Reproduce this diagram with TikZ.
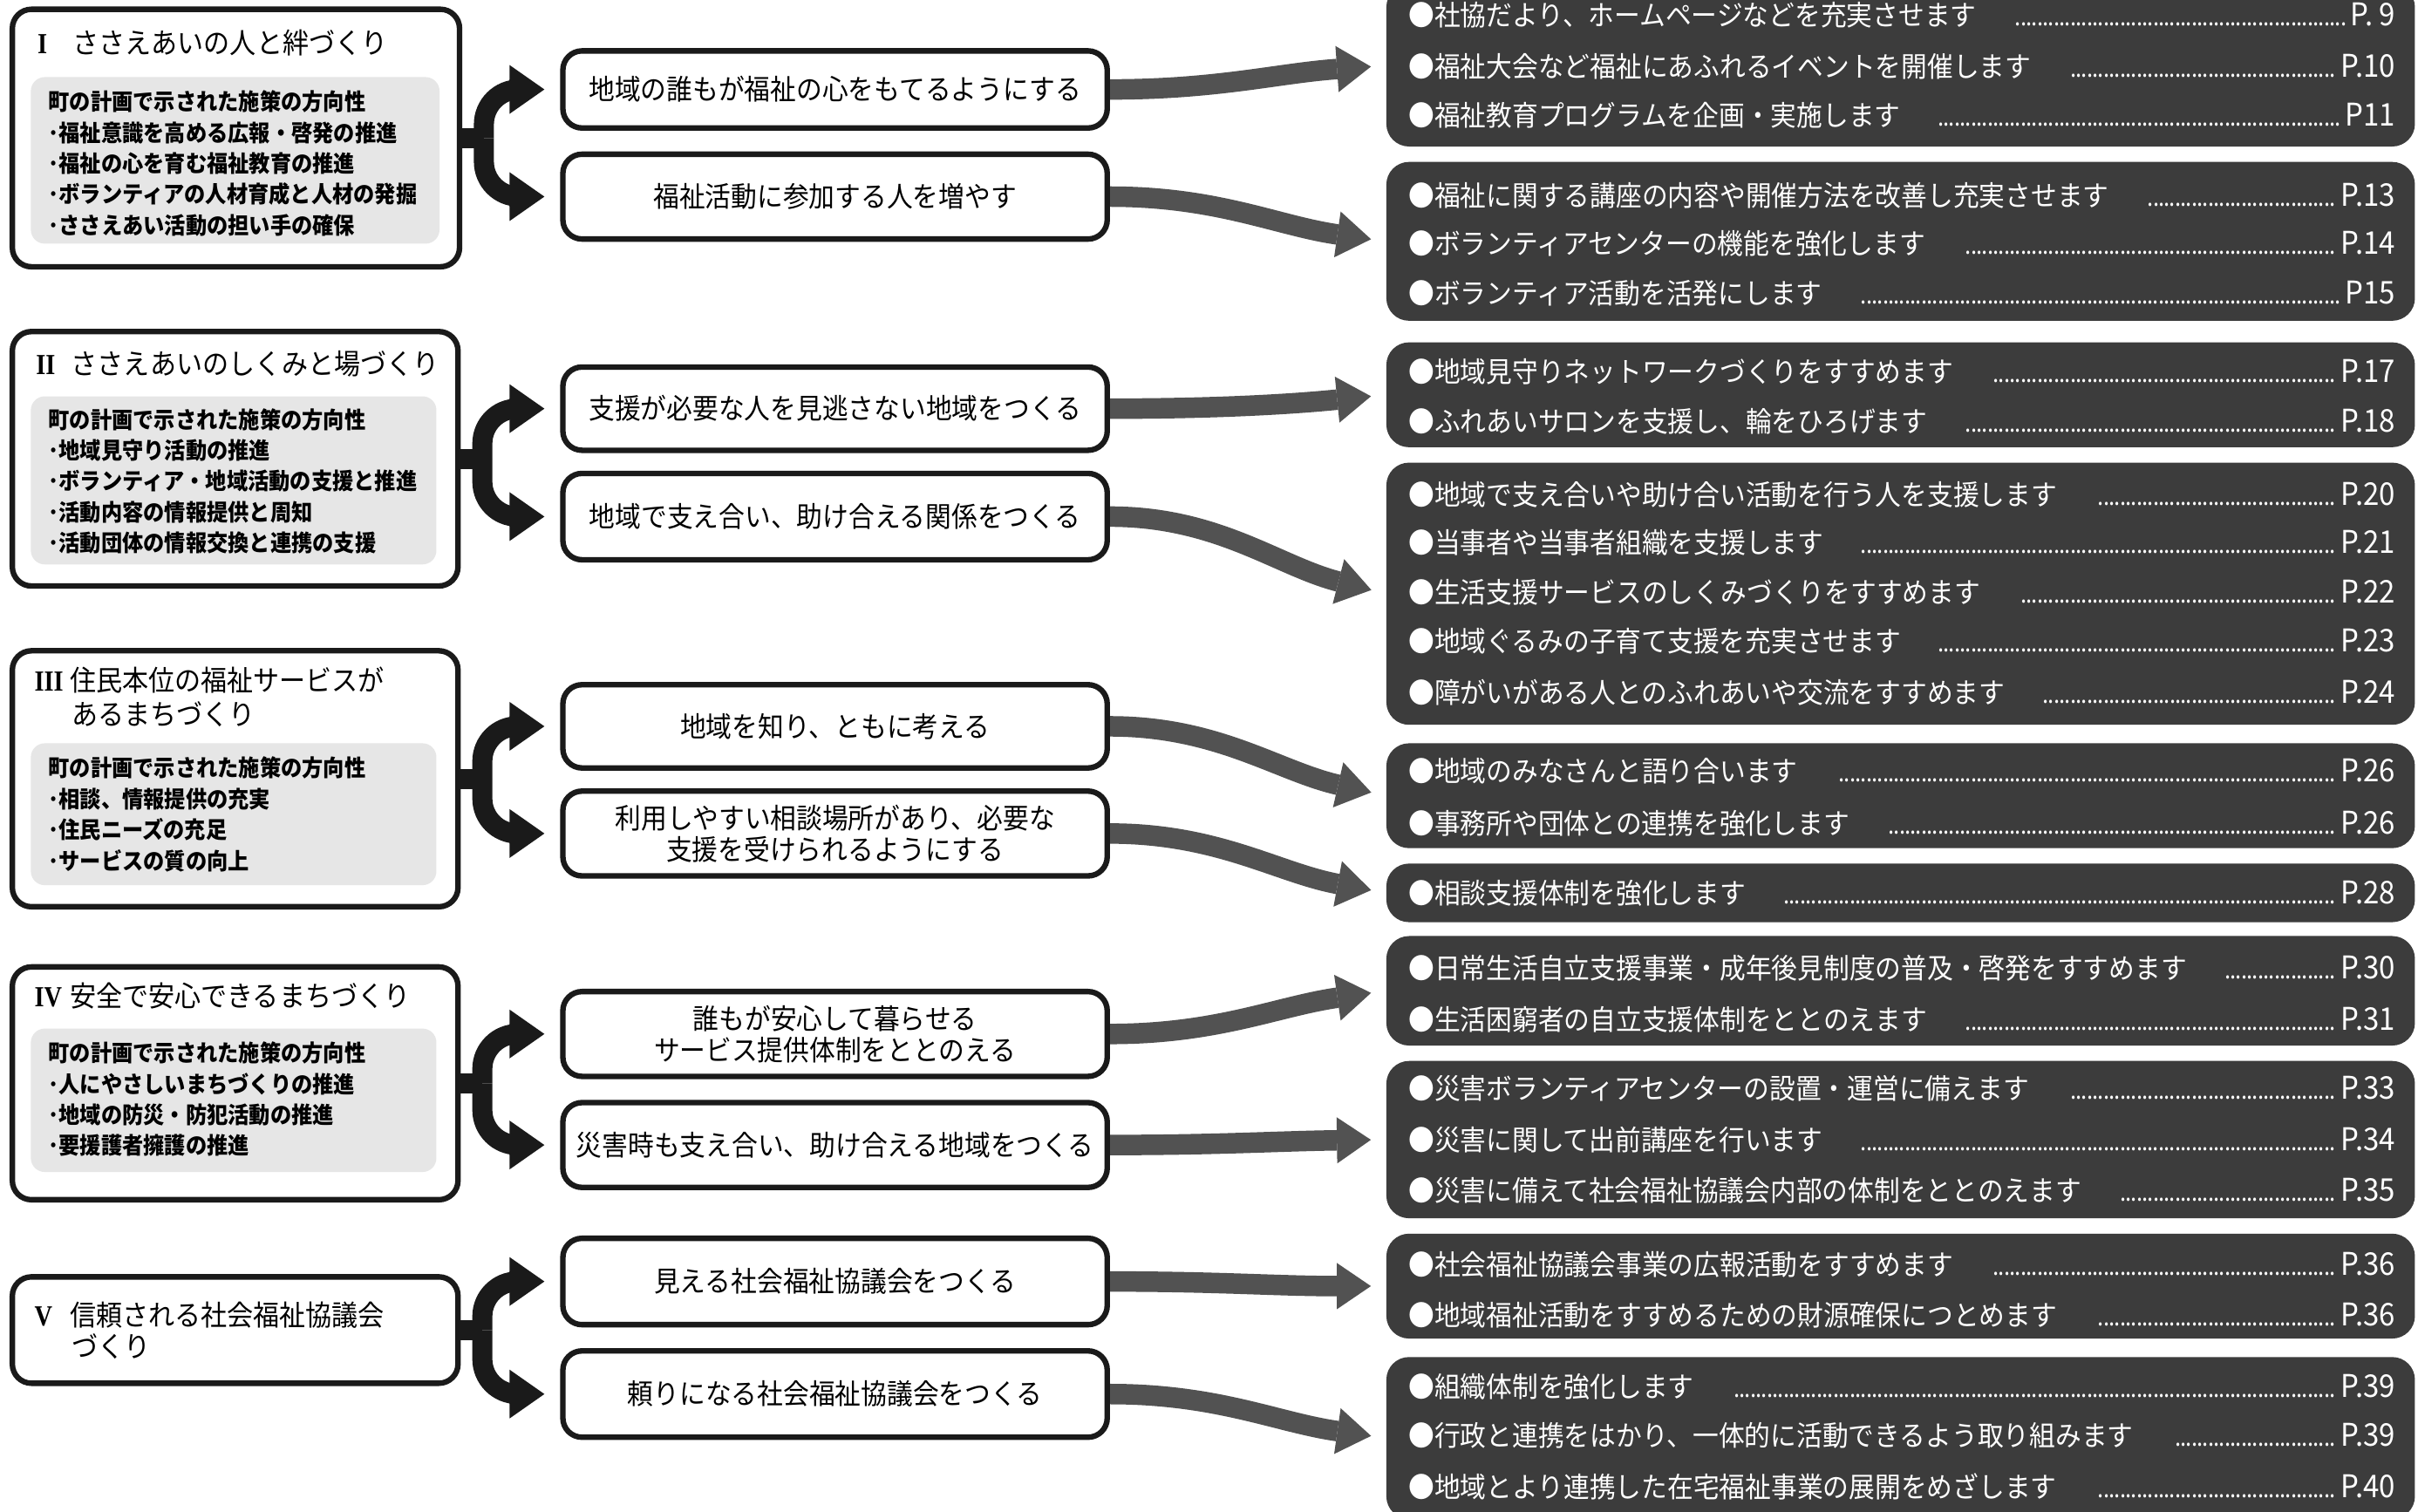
\documentclass[tikz,border=0pt]{standalone}
\usepackage{fontspec}
\usetikzlibrary{arrows.meta,fit,backgrounds}
\newfontfamily\jp[FakeStretch=0.92]{Noto Sans CJK JP}
\newfontfamily\rnfont[FakeStretch=0.85]{Liberation Serif}
\definecolor{darkbox}{HTML}{3C3C3C}
\definecolor{arrowgray}{HTML}{525252}
\definecolor{innergray}{HTML}{E6E6E6}
\definecolor{inkblack}{HTML}{1A1A1A}
\newcommand\numl[1]{\hbox to 11.5pt{\rnfont\bfseries\fontsize{9.5}{10}\selectfont #1\hss}}
\newcommand\dotlead{\leaders\hbox to 1.8pt{\hss\fontsize{8}{8}\selectfont.\hss}\hfill}
\newcommand\pgitem[2]{\hbox to 322pt{●#1\hskip 1.3em\dotlead\hskip 0.4pt {\fontsize{10.2}{12}\selectfont #2}}}
\begin{document}
\begin{tikzpicture}[x=0.17685mm,y=-0.17685mm,
  lbox/.style={draw=inkblack, line width=1.8pt, rounded corners=2.2mm, fill=white, inner sep=0pt},
  gbox/.style={fill=innergray, draw=none, rounded corners=1.6mm, inner sep=0pt},
  mbox/.style={draw=inkblack, line width=1.8pt, rounded corners=2.2mm, fill=white, inner sep=0pt},
  dbox/.style={fill=darkbox, draw=none, rounded corners=2.6mm, inner sep=0pt},
  ttl/.style={anchor=west, inner sep=0pt, font=\jp\fontsize{9.3}{12}\selectfont},
  gtxt/.style={anchor=west, inner sep=0pt, font=\jp\bfseries\fontsize{7.5}{9}\selectfont},
  mtxt/.style={inner sep=0pt, align=center, font=\jp\fontsize{9.2}{10.2}\selectfont},
  itm/.style={anchor=west, inner sep=0pt, text=white, font=\jp\fontsize{9.2}{12}\selectfont},
  cstem/.style={draw=inkblack, line width=2.3mm},
  carrow/.style={draw=inkblack, line width=2.3mm, rounded corners=4mm, -{Triangle[length=4mm,width=5.6mm,line width=0pt]}, shorten >=1.8mm},
  garrow/.style={draw=arrowgray, line width=2.35mm, -{Triangle[length=3.9mm,width=5.3mm,line width=0pt]}, shorten >=1.7mm}]
\clip (0,0) rectangle (1568,980);
\begin{pgfonlayer}{background}
\fill[white] (0,0) rectangle (1568,980);
\end{pgfonlayer}

% ---------- left boxes ----------
\node[lbox, fit={(8,6) (298,173)}] (L1) {};
\node[gbox, fit={(20,50) (285,158)}] (G1) {};
\node[ttl] (L1t) at (24,28) {\numl{I}ささえあいの人と絆づくり};
\foreach \t [count=\i] in {町の計画で示された施策の方向性,･福祉意識を高める広報・啓発の推進,･福祉の心を育む福祉教育の推進,･ボランティアの人材育成と人材の発掘,･ささえあい活動の担い手の確保}
  \node[gtxt] (G1-\i) at (31,{66+20*(\i-1)}) {\t};

\node[lbox, fit={(8,215) (297,380)}] (L2) {};
\node[gbox, fit={(20,257) (283,366)}] (G2) {};
\node[ttl] (L2t) at (23,236) {\numl{II}ささえあいのしくみと場づくり};
\foreach \t [count=\i] in {町の計画で示された施策の方向性,･地域見守り活動の推進,･ボランティア・地域活動の支援と推進,･活動内容の情報提供と周知,･活動団体の情報交換と連携の支援}
  \node[gtxt] (G2-\i) at (31,{272+20*(\i-1)}) {\t};

\node[lbox, fit={(8,422) (297,588)}] (L3) {};
\node[gbox, fit={(20,482) (283,574)}] (G3) {};
\node[ttl] (L3t) at (22,441) {\numl{III}住民本位の福祉サービスが};
\node[ttl] (L3u) at (46,463) {あるまちづくり};
\foreach \t [count=\i] in {町の計画で示された施策の方向性,･相談、情報提供の充実,･住民ニーズの充足,･サービスの質の向上}
  \node[gtxt] (G3-\i) at (31,{498+20*(\i-1)}) {\t};

\node[lbox, fit={(8,627) (297,778)}] (L4) {};
\node[gbox, fit={(20,667) (283,760)}] (G4) {};
\node[ttl] (L4t) at (22,646) {\numl{IV}安全で安心できるまちづくり};
\foreach \t [count=\i] in {町の計画で示された施策の方向性,･人にやさしいまちづくりの推進,･地域の防災・防犯活動の推進,･要援護者擁護の推進}
  \node[gtxt] (G4-\i) at (31,{683+20*(\i-1)}) {\t};

\node[lbox, fit={(8,828) (297,897)}] (L5) {};
\node[ttl] (L5t) at (22,853) {\numl{V}信頼される社会福祉協議会};
\node[ttl] (L5u) at (46,873) {づくり};

% ---------- middle boxes ----------
\node[mbox, fit={(365,33) (718,83)}] (M1a) {};
\node[mbox, fit={(365,100) (718,155)}] (M1b) {};
\node[mbox, fit={(365,238) (718,292)}] (M2a) {};
\node[mbox, fit={(365,307) (718,363)}] (M2b) {};
\node[mbox, fit={(365,444) (718,498)}] (M3a) {};
\node[mbox, fit={(365,513) (718,568)}] (M3b) {};
\node[mbox, fit={(365,643) (718,698)}] (M4a) {};
\node[mbox, fit={(365,715) (718,770)}] (M4b) {};
\node[mbox, fit={(365,803) (718,859)}] (M5a) {};
\node[mbox, fit={(365,876) (718,932)}] (M5b) {};
\node[mtxt] (M1at) at (M1a.center) {地域の誰もが福祉の心をもてるようにする};
\node[mtxt] (M1bt) at (M1b.center) {福祉活動に参加する人を増やす};
\node[mtxt] (M2at) at (M2a.center) {支援が必要な人を見逃さない地域をつくる};
\node[mtxt] (M2bt) at (M2b.center) {地域で支え合い、助け合える関係をつくる};
\node[mtxt] (M3at) at (M3a.center) {地域を知り、ともに考える};
\node[mtxt] (M3bt) at (M3b.center) {利用しやすい相談場所があり、必要な\\支援を受けられるようにする};
\node[mtxt] (M4at) at (M4a.center) {誰もが安心して暮らせる\\サービス提供体制をととのえる};
\node[mtxt] (M4bt) at (M4b.center) {災害時も支え合い、助け合える地域をつくる};
\node[mtxt] (M5at) at (M5a.center) {見える社会福祉協議会をつくる};
\node[mtxt] (M5bt) at (M5b.center) {頼りになる社会福祉協議会をつくる};

% ---------- dark boxes ----------
\node[dbox, fit={(899,-10) (1566,95)}] (D1) {};
\node[dbox, fit={(899,105) (1566,208)}] (D2) {};
\node[dbox, fit={(899,222) (1566,290)}] (D3) {};
\node[dbox, fit={(899,300) (1566,470)}] (D4) {};
\node[dbox, fit={(899,482) (1566,550)}] (D5) {};
\node[dbox, fit={(899,560) (1566,598)}] (D6) {};
\node[dbox, fit={(899,607) (1566,678)}] (D7) {};
\node[dbox, fit={(899,688) (1566,790)}] (D8) {};
\node[dbox, fit={(899,800) (1566,868)}] (D9) {};
\node[dbox, fit={(899,880) (1566,985)}] (D10) {};

\node[itm] (D1-1) at (913,10) {\pgitem{社協だより、ホームページなどを充実させます}{P. 9}};
\node[itm] (D1-2) at (913,43) {\pgitem{福祉大会など福祉にあふれるイベントを開催します}{P.10}};
\node[itm] (D1-3) at (913,75) {\pgitem{福祉教育プログラムを企画・実施します}{P11}};
\node[itm] (D2-1) at (913,127) {\pgitem{福祉に関する講座の内容や開催方法を改善し充実させます}{P.13}};
\node[itm] (D2-2) at (913,158) {\pgitem{ボランティアセンターの機能を強化します}{P.14}};
\node[itm] (D2-3) at (913,190) {\pgitem{ボランティア活動を活発にします}{P15}};
\node[itm] (D3-1) at (913,241) {\pgitem{地域見守りネットワークづくりをすすめます}{P.17}};
\node[itm] (D3-2) at (913,273) {\pgitem{ふれあいサロンを支援し、輪をひろげます}{P.18}};
\node[itm] (D4-1) at (913,321) {\pgitem{地域で支え合いや助け合い活動を行う人を支援します}{P.20}};
\node[itm] (D4-2) at (913,352) {\pgitem{当事者や当事者組織を支援します}{P.21}};
\node[itm] (D4-3) at (913,384) {\pgitem{生活支援サービスのしくみづくりをすすめます}{P.22}};
\node[itm] (D4-4) at (913,416) {\pgitem{地域ぐるみの子育て支援を充実させます}{P.23}};
\node[itm] (D4-5) at (913,449) {\pgitem{障がいがある人とのふれあいや交流をすすめます}{P.24}};
\node[itm] (D5-1) at (913,500) {\pgitem{地域のみなさんと語り合います}{P.26}};
\node[itm] (D5-2) at (913,534) {\pgitem{事務所や団体との連携を強化します}{P.26}};
\node[itm] (D6-1) at (913,579) {\pgitem{相談支援体制を強化します}{P.28}};
\node[itm] (D7-1) at (913,628) {\pgitem{日常生活自立支援事業・成年後見制度の普及・啓発をすすめます}{P.30}};
\node[itm] (D7-2) at (913,661) {\pgitem{生活困窮者の自立支援体制をととのえます}{P.31}};
\node[itm] (D8-1) at (913,706) {\pgitem{災害ボランティアセンターの設置・運営に備えます}{P.33}};
\node[itm] (D8-2) at (913,739) {\pgitem{災害に関して出前講座を行います}{P.34}};
\node[itm] (D8-3) at (913,772) {\pgitem{災害に備えて社会福祉協議会内部の体制をととのえます}{P.35}};
\node[itm] (D9-1) at (913,820) {\pgitem{社会福祉協議会事業の広報活動をすすめます}{P.36}};
\node[itm] (D9-2) at (913,853) {\pgitem{地域福祉活動をすすめるための財源確保につとめます}{P.36}};
\node[itm] (D10-1) at (913,899) {\pgitem{組織体制を強化します}{P.39}};
\node[itm] (D10-2) at (913,931) {\pgitem{行政と連携をはかり、一体的に活動できるよう取り組みます}{P.39}};
\node[itm] (D10-3) at (913,964) {\pgitem{地域とより連携した在宅福祉事業の展開をめざします}{P.40}};

% ---------- branching arrows ----------
\draw[cstem] (L1.east) -- ++(14,0) coordinate (s1);
\draw[carrow] (s1) |- (M1a.west);
\draw[carrow] (s1) |- (M1b.west);
\draw[cstem] (L2.east) -- ++(14,0) coordinate (s2);
\draw[carrow] (s2) |- (M2a.west);
\draw[carrow] (s2) |- (M2b.west);
\draw[cstem] (L3.east) -- ++(14,0) coordinate (s3);
\draw[carrow] (s3) |- (M3a.west);
\draw[carrow] (s3) |- (M3b.west);
\draw[cstem] (L4.east) -- ++(14,0) coordinate (s4);
\draw[carrow] (s4) |- (M4a.west);
\draw[carrow] (s4) |- (M4b.west);
\draw[cstem] (L5.east) -- ++(14,0) coordinate (s5);
\draw[carrow] (s5) |- (M5a.west);
\draw[carrow] (s5) |- (M5b.west);

% ---------- gray arrows (under the boxes) ----------
\begin{scope}[on background layer]
\draw[garrow] (M1a.east) .. controls +(70,0) and +(-70,5) .. (D1.west);
\draw[garrow] (M1b.east) .. controls +(70,0) and +(-70,-10) .. (D2.west);
\draw[garrow] (M2a.east) .. controls +(70,0) and +(-60,6) .. (D3.west);
\draw[garrow] (M2b.east) .. controls +(70,0) and +(-70,-18) .. (D4.west);
\draw[garrow] (M3a.east) .. controls +(70,0) and +(-70,-16) .. (D5.west);
\draw[garrow] (M3b.east) .. controls +(70,0) and +(-70,-13) .. (D6.west);
\draw[garrow] (M4a.east) .. controls +(70,0) and +(-70,10) .. (D7.west);
\draw[garrow] (M4b.east) .. controls +(70,0) and +(-70,1) .. (D8.west);
\draw[garrow] (M5a.east) .. controls +(70,0) and +(-70,0) .. (D9.west);
\draw[garrow] (M5b.east) .. controls +(70,0) and +(-70,-10) .. (D10.west);
\end{scope}
\end{tikzpicture}
\end{document}
